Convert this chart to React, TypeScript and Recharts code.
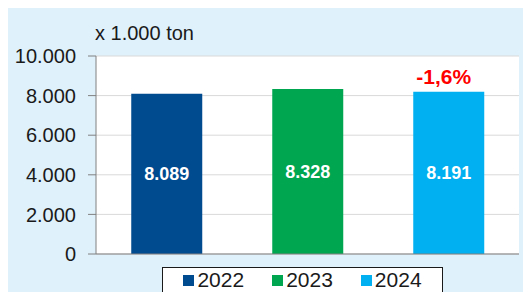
import React from 'react';
import { BarChart, Bar, XAxis, YAxis, CartesianGrid, LabelList } from 'recharts';

const categories = ['2022', '2023', '2024'];
const values = [8089, 8328, 8191];
const changeLabels = ['', '', '-1,6%'];
const seriesColors = ['#004A8F', '#00A650', '#00B0F0'];
const yTicks = [0, 2000, 4000, 6000, 8000, 10000];
const unitLabel = 'x 1.000 ton';

const FONT = '"Liberation Sans", Arial, sans-serif';

const fmt = (v: any) => {
  if (v === undefined || v === null || v === '') return '';
  return String(v).replace(/\B(?=(\d{3})+(?!\d))/g, '.');
};

const data = categories.map((c, i) => ({
  name: c,
  [c]: values[i],
  change: changeLabels[i] || undefined,
}));

const UnitLabel = (props: any) => {
  const vb = props.viewBox || {};
  return (
    <text x={vb.x + vb.width - 1} y={vb.y - 16} fontSize={20} fontFamily={FONT} fill="#1a1a1a">
      {unitLabel}
    </text>
  );
};

export default function App() {
  return (
    <div style={{ position: 'relative', width: 523, height: 284, background: '#DFF1FB', fontFamily: FONT }}>
      <BarChart
        width={523}
        height={284}
        data={data}
        margin={{ top: 48, right: 12, bottom: 32, left: 0 }}
        barCategoryGap="25%"
      >
        <CartesianGrid vertical={false} stroke="#d9d9d9" fill="#ffffff" />
        <XAxis xAxisId="cat" dataKey="name" type="category" hide />
        <XAxis
          xAxisId="bnd"
          type="number"
          domain={[0, 3]}
          allowDataOverflow
          ticks={[0, 1, 2, 3]}
          tick={false}
          tickSize={6}
          height={6}
          axisLine={{ stroke: '#808080' }}
          tickLine={{ stroke: '#808080' }}
        />
        <YAxis
          domain={[0, 10000]}
          ticks={yTicks}
          width={88}
          tickSize={8}
          tickMargin={12}
          tickFormatter={fmt}
          axisLine={{ stroke: '#808080' }}
          tickLine={{ stroke: '#808080' }}
          tick={{ fontSize: 20, fill: '#1a1a1a', fontFamily: FONT }}
          label={<UnitLabel />}
        />
        {categories.map((c, i) => (
          <Bar
            key={c}
            dataKey={c}
            xAxisId="cat"
            stackId="a"
            fill={seriesColors[i]}
            isAnimationActive={false}
          >
            <LabelList
              dataKey={c}
              position="center"
              formatter={fmt}
              fill="#ffffff"
              fontSize={18}
              fontWeight="bold"
              fontFamily={FONT}
            />
            {changeLabels[i] ? (
              <LabelList
                dataKey="change"
                position="top"
                offset={8}
                dx={-5}
                fill="#FF0000"
                fontSize={21}
                fontWeight="bold"
                fontFamily={FONT}
              />
            ) : null}
          </Bar>
        ))}
      </BarChart>
      <div
        style={{
          position: 'absolute',
          left: 154,
          top: 259,
          width: 279,
          height: 24,
          background: '#ffffff',
          border: '1px solid #1a1a1a',
          display: 'flex',
          alignItems: 'center',
          justifyContent: 'center',
          gap: 28,
          fontSize: 21,
          color: '#1a1a1a',
          boxSizing: 'content-box',
        }}
      >
        {categories.map((c, i) => (
          <div key={c} style={{ display: 'flex', alignItems: 'center', gap: 3 }}>
            <span style={{ display: 'inline-block', width: 11, height: 11, background: seriesColors[i] }} />
            <span style={{ lineHeight: '24px' }}>{c}</span>
          </div>
        ))}
      </div>
    </div>
  );
}
